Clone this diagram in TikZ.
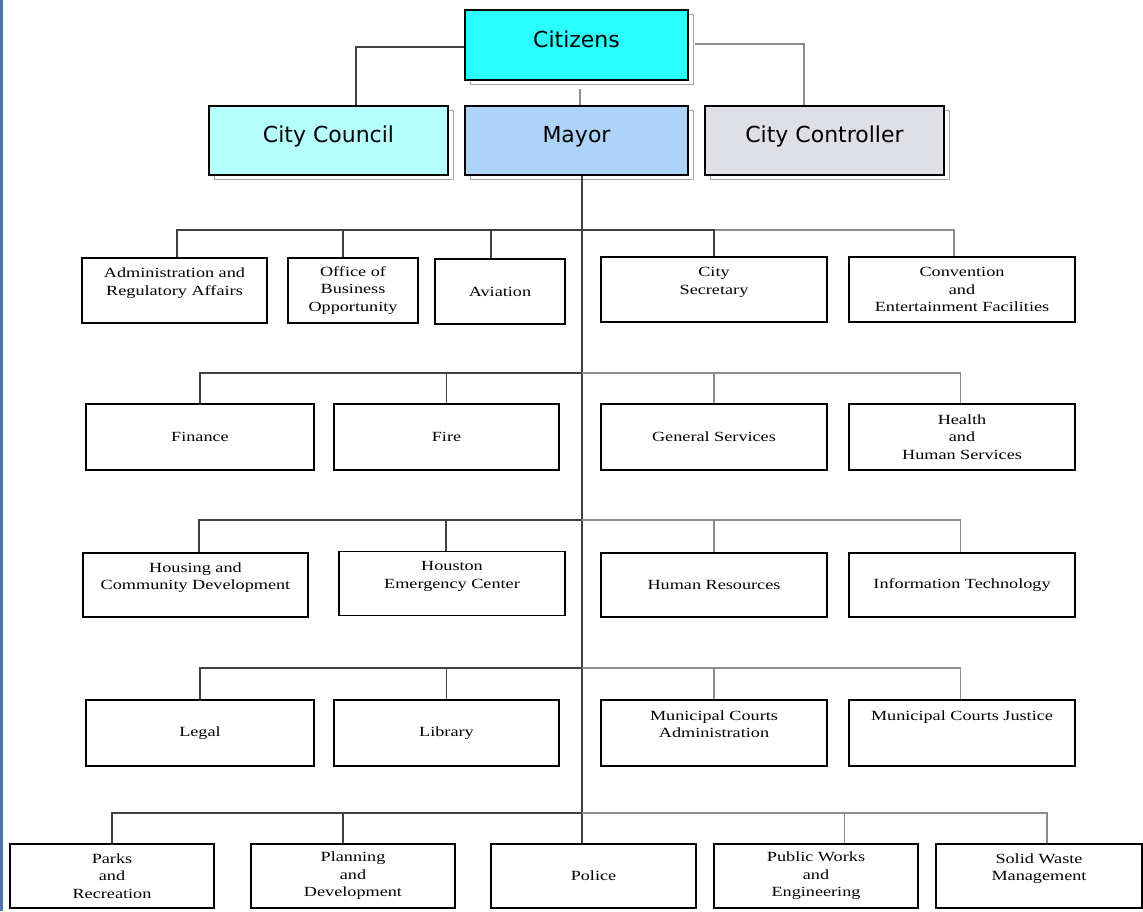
\documentclass[tikz,border=0pt]{standalone}
\usepackage{fontspec}
\setmainfont{Liberation Serif}[FakeStretch=1.3]
\newfontfamily\topfont{DejaVu Sans}
\usetikzlibrary{shadows}
\definecolor{citcyan}{HTML}{2AFFFF}
\definecolor{councilcyan}{HTML}{B5FFFF}
\definecolor{mayorblue}{HTML}{ADD3FB}
\definecolor{ctrlgray}{HTML}{DEE0E5}
\definecolor{edgeblue}{HTML}{4F77A8}
\begin{document}
\begin{tikzpicture}[x=1pt, y=-1pt,
  top/.style={draw, line width=2.4pt, minimum height=70pt, text depth=12pt, font=\topfont\fontsize{22}{26}\selectfont,
    general shadow={shadow xshift=5pt, shadow yshift=-4pt, fill=white, draw=gray!70, line width=1pt}},
  dept/.style={draw, line width=1.6pt, minimum height=65pt, align=center, inner sep=2pt, font=\fontsize{14}{17.5}\selectfont}]
\tikzset{link/.style={line width=1.8pt, draw=black!75}, glink/.style={line width=1.8pt, draw=black!45}}
\useasboundingbox (0,0) rectangle (1143,911);
\fill[edgeblue] (0,0) rectangle (2.5,911);

\node[top, fill=citcyan, minimum width=223pt] (0) at (576.5,45) {Citizens};
\node[top, fill=councilcyan, minimum width=239pt, minimum height=69pt] (1) at (328.5,140.5) {City Council};
\node[top, fill=mayorblue, minimum width=223pt, minimum height=69pt] (2) at (576.5,140.5) {Mayor};
\node[top, fill=ctrlgray, minimum width=239pt, minimum height=69pt] (3) at (824.5,140.5) {City Controller};

\node[dept, minimum width=185pt] (4) at (174.5,290.5) {Administration and\\Regulatory Affairs\\~};
\node[dept, minimum width=130pt] (5) at (353,290.5) {Office of\\Business\\Opportunity};
\node[dept, minimum width=130pt] (6) at (500,291.5) {Aviation};
\node[dept, minimum width=226pt] (7) at (714,289.5) {City\\Secretary\\~};
\node[dept, minimum width=226pt] (8) at (962,289.5) {Convention\\and\\Entertainment Facilities};

\node[dept, minimum width=228pt, minimum height=66pt] (9) at (200,437) {Finance};
\node[dept, minimum width=225pt, minimum height=66pt] (10) at (446.5,437) {Fire};
\node[dept, minimum width=226pt, minimum height=66pt] (11) at (714,437) {General Services};
\node[dept, minimum width=226pt, minimum height=66pt] (12) at (962,437) {Health\\and\\Human Services};

\node[dept, minimum width=225pt, minimum height=64pt] (13) at (195.5,585) {Housing and\\Community Development\\~};
\node[dept, minimum width=226pt, minimum height=64pt] (14) at (452,583.5) {Houston\\Emergency Center\\~};
\node[dept, minimum width=226pt, minimum height=64pt] (15) at (714,585) {Human Resources};
\node[dept, minimum width=226pt, minimum height=64pt] (16) at (962,585) {Information Technology};

\node[dept, minimum width=228pt, minimum height=66pt] (17) at (200,733) {Legal};
\node[dept, minimum width=225pt, minimum height=66pt] (18) at (446.5,733) {Library};
\node[dept, minimum width=226pt, minimum height=66pt] (19) at (714,733) {Municipal Courts\\Administration\\~};
\node[dept, minimum width=226pt, minimum height=66pt] (20) at (962,733) {Municipal Courts Justice\\~\\~};

\node[dept, minimum width=204pt, minimum height=64pt] (21) at (112,876) {Parks\\and\\Recreation};
\node[dept, minimum width=204pt, minimum height=64pt] (22) at (353,876) {Planning\\and\\Development};
\node[dept, minimum width=205pt, minimum height=64pt] (23) at (593.5,876) {Police};
\node[dept, minimum width=204pt, minimum height=64pt] (24) at (816,876) {Public Works\\and\\Engineering};
\node[dept, minimum width=206pt, minimum height=64pt] (25) at (1039,876) {Solid Waste\\Management\\~};

\coordinate (r1) at (582,230);
\coordinate (r2) at (582,373);
\coordinate (r3) at (582,520);
\coordinate (r4) at (582,668);
\coordinate (r5) at (582,813);

\draw[link] ([yshift=-2pt]0.west) -| ([xshift=27.5pt]1.north);
\draw[glink] ([xshift=6pt,yshift=1pt]0.east) -| ([xshift=-20.5pt]3.north);
\draw[glink] ([xshift=3.5pt,yshift=-8pt]0.south) -- ([xshift=3.5pt]2.north);
\draw[link] ([xshift=5.5pt]2.south) -- ([xshift=5.5pt]2.south |- 23.north);

\draw[glink] ([xshift=-8pt]8.north) |- (r1);
\draw[link] (7.north) |- (r1);
\draw[link] ([xshift=2.5pt]4.north) |- (r1);
\draw[link] ([xshift=-10pt]5.north) |- (r1);
\draw[link] ([xshift=-9pt]6.north) |- (r1);

\draw[link] (9.north) |- (r2);
\draw[link] (10.north) |- (r2);
\draw[glink] ([xshift=-1.5pt]12.north) |- (r2);
\draw[glink] (11.north) |- (r2);

\draw[link] ([xshift=3.5pt]13.north) |- (r3);
\draw[link] ([xshift=-6pt]14.north) |- (r3);
\draw[glink] ([xshift=-1.5pt]16.north) |- (r3);
\draw[glink] (15.north) |- (r3);

\draw[link] (17.north) |- (r4);
\draw[link] (18.north) |- (r4);
\draw[glink] ([xshift=-1.5pt]20.north) |- (r4);
\draw[glink] (19.north) |- (r4);

\draw[glink] ([xshift=8pt]25.north) |- (r5);
\draw[glink] ([xshift=28.5pt]24.north) |- (r5);
\draw[link] (21.north) |- (r5);
\draw[link] ([xshift=-10pt]22.north) |- (r5);
\end{tikzpicture}
\end{document}
